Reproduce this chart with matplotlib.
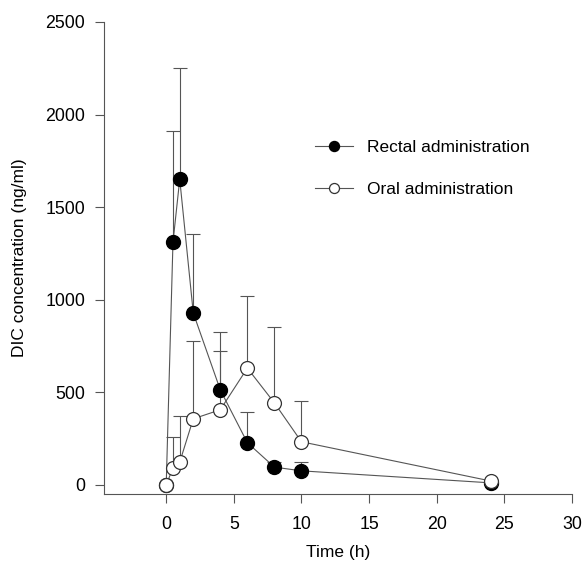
import matplotlib
matplotlib.use("Agg")
import matplotlib.pyplot as plt
import numpy as np

plt.rcParams['font.family'] = ['Liberation Sans', 'DejaVu Sans']

time_rectal = [0, 0.5, 1, 2, 4, 6, 8, 10, 24]
rectal = [0, 1310, 1650, 928, 512, 227, 95, 75, 10]
rectal_upper = [0, 1910, 2250, 1355, 825, 394, 125, 122, 10]

time_oral = [0, 0.5, 1, 2, 4, 6, 8, 10, 24]
oral = [0, 90, 122, 356, 405, 630, 442, 232, 20]
oral_upper = [0, 258, 372, 778, 723, 1020, 850, 452, 20]

x_ticks = [0, 5, 10, 15, 20, 25, 30]
y_ticks = [0, 500, 1000, 1500, 2000, 2500]

fig = plt.figure(figsize=(5.82, 5.63), dpi=100)
ax = fig.add_axes([0.1787, 0.1226, 0.804, 0.8384])

lc = '#555555'
# error bars (upper only)
re = np.array(rectal_upper) - np.array(rectal)
oe = np.array(oral_upper) - np.array(oral)
ax.errorbar(time_oral, oral, yerr=[np.zeros_like(oe), oe], fmt='none',
            ecolor=lc, elinewidth=0.8, capsize=5, capthick=0.8, zorder=1)
ax.errorbar(time_rectal, rectal, yerr=[np.zeros_like(re), re], fmt='none',
            ecolor=lc, elinewidth=0.8, capsize=5, capthick=0.8, zorder=1)

ax.plot(time_rectal, rectal, '-', color=lc, lw=0.8, marker='o', markersize=10,
        markerfacecolor='black', markeredgecolor='black', label='Rectal administration', zorder=3)
ax.plot(time_oral, oral, '-', color=lc, lw=0.8, marker='o', markersize=10,
        markerfacecolor='white', markeredgecolor='#333333', markeredgewidth=0.9,
        label='Oral administration', zorder=4)

ax.set_xlim(-4.6, 30)
ax.set_ylim(-50, 2500)
ax.set_xticks(x_ticks)
ax.set_yticks(y_ticks)
ax.tick_params(direction='out', length=6.5, width=0.8, color=lc, labelsize=12.8, pad=7)
ax.tick_params(axis='x', pad=9)
for s in ['top', 'right']:
    ax.spines[s].set_visible(False)
for s in ['left', 'bottom']:
    ax.spines[s].set_color(lc)
    ax.spines[s].set_linewidth(0.8)

ax.set_xlabel('Time (h)', fontsize=12.5, labelpad=9)
ax.set_ylabel('DIC concentration (ng/ml)', fontsize=12.5, labelpad=13)

leg = ax.legend(loc='upper left', bbox_to_anchor=(0.451, 0.751), frameon=False,
                fontsize=12.5, handlelength=2.2, labelspacing=1.55, handletextpad=0.8,
                borderpad=0, borderaxespad=0, markerscale=0.72)

fig.savefig('out.png', dpi=100)
